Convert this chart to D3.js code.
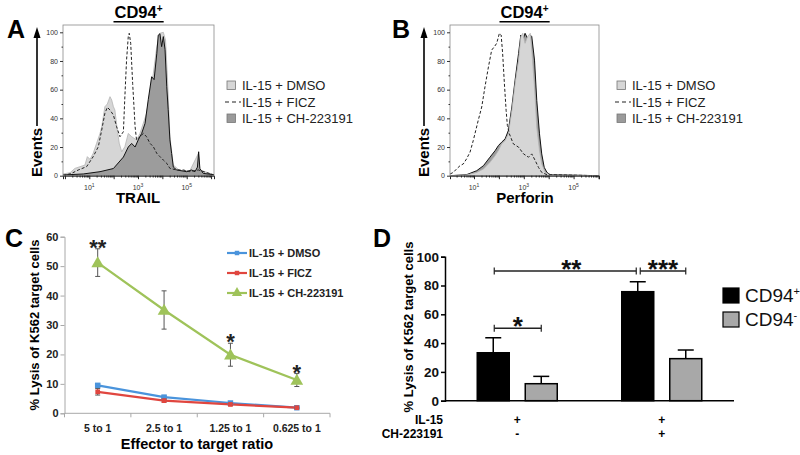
<!DOCTYPE html>
<html><head><meta charset="utf-8">
<script src="https://cdn.jsdelivr.net/npm/d3@7"></script>
<style>body{margin:0;background:#fff}svg{font-family:"Liberation Sans",Arial,Helvetica,sans-serif}</style>
</head><body><svg id="c" width="800" height="455"></svg>
<script>
// ================= DATA =================
// Panels A/B: flow histograms, [log10 intensity, % of max events]
const histYTicks = [0, 20, 40, 60, 80, 100];
const histXLabelExps = [1, 3, 5];
const histLegend = ["IL-15 + DMSO", "IL-15 + FICZ", "IL-15 + CH-223191"];

const trailDMSO = [[-0.08,1.2],[0.21,2.1],[0.41,5.1],[0.62,6.3],[0.82,7.4],[0.92,13.3],[1.03,11.4],[1.16,15.6],[1.30,22.6],[1.44,29.5],[1.51,34.2],[1.64,48.1],[1.74,50],[1.85,55.1],[1.92,52.8],[1.99,48.1],[2.05,45.8],[2.15,31.9],[2.23,22.6],[2.33,16.7],[2.46,20.2],[2.60,29.5],[2.74,27.2],[2.94,24.9],[3.08,29.5],[3.35,43.5],[3.63,71.4],[3.77,90],[3.90,99.3],[4.04,100],[4.13,94.6],[4.22,64.4],[4.31,27.2],[4.45,7.4],[4.72,3.5],[5.13,3.5],[5.48,15.6],[5.54,4],[6.12,0.7]];
const trailFICZ = [[-0.08,0],[0.27,1.6],[0.55,4],[0.89,6.3],[1.16,13.3],[1.37,20.2],[1.51,31.9],[1.64,43.5],[1.74,47.7],[1.85,45.8],[1.99,42.3],[2.12,34.2],[2.26,27.2],[2.40,30.7],[2.46,55],[2.53,80.7],[2.60,97],[2.64,99.3],[2.70,92.3],[2.78,64.4],[2.88,34.2],[2.94,24.9],[3.08,27.2],[3.22,29.5],[3.35,27.2],[3.49,22.6],[3.63,20.2],[3.77,15.6],[3.90,13.3],[4.04,10.9],[4.18,8.6],[4.31,5.1],[4.59,4],[4.86,4],[5.13,2.8],[5.48,4],[6.12,0.5]];
const trailCH = [[-0.08,0.5],[0.75,1.2],[1.44,2.8],[1.99,5],[2.40,13],[2.60,20],[2.74,22.5],[2.88,20],[3.01,25],[3.15,29.5],[3.29,36.5],[3.42,53],[3.56,69],[3.66,67],[3.77,85],[3.83,98],[3.90,99],[3.97,90],[4.04,97],[4.11,88],[4.18,62],[4.24,46],[4.31,25],[4.38,15.5],[4.45,6],[4.59,4],[5.0,2.8],[5.2,4],[5.34,2.8],[5.44,6],[5.49,16.7],[5.54,5],[5.68,1.6],[6.12,0.7]];

const perfDMSO = [[0.04,0],[0.70,0.5],[1.11,2.3],[1.38,4.7],[1.64,9.3],[1.85,14],[1.98,17.5],[2.11,22.2],[2.25,24.5],[2.38,29.2],[2.52,45.6],[2.65,64.3],[2.79,80.6],[2.88,96.9],[2.96,99.3],[3.05,92.3],[3.15,96.9],[3.26,99.3],[3.32,87.6],[3.43,61.9],[3.52,33.9],[3.63,17.5],[3.72,8.2],[3.86,2.3],[4.06,0.5],[6.02,0]];
const perfFICZ = [[0.04,1.2],[0.17,2.3],[0.30,4.7],[0.44,7],[0.57,8.2],[0.70,11.7],[0.84,16.4],[0.97,24.5],[1.17,38.6],[1.31,47.9],[1.44,61.9],[1.58,75.9],[1.71,87.6],[1.82,90],[1.91,92.3],[2.02,99.3],[2.09,98.1],[2.15,85.3],[2.22,64.3],[2.29,45.6],[2.34,35],[2.42,29.2],[2.58,22.2],[2.79,19.9],[2.99,15.2],[3.19,12.9],[3.32,15.2],[3.46,10.5],[3.59,5.8],[3.72,2.3],[3.93,0.7],[6.02,0]];
const perfCH = [[0.04,0],[0.70,0.7],[1.11,3.5],[1.38,7],[1.64,12.9],[1.85,17.5],[1.98,21],[2.11,23.4],[2.25,25.7],[2.38,31.5],[2.52,47.9],[2.65,66.6],[2.79,85.3],[2.88,98.1],[2.96,94.6],[3.05,99.3],[3.15,95.8],[3.26,98.1],[3.32,97],[3.43,80.6],[3.52,52.6],[3.63,29.2],[3.72,15.2],[3.82,5.8],[3.93,2.3],[4.06,0.7],[6.02,0]];

// Panel C: lysis vs E:T ratio
const ratios = ["5 to 1", "2.5 to 1", "1.25 to 1", "0.625 to 1"];
const seriesNamesC = ["IL-15 + DMSO", "IL-15 + FICZ", "IL-15 + CH-223191"];
const lysisDMSO = [9.5, 5.5, 3.5, 1.9];
const lysisFICZ = [7.3, 4.3, 3.0, 1.9];
const lysisCH = [51.2, 35.1, 19.9, 11.3];
const errDMSO = [0.5, 0.4, 0.3, 0.2];
const errFICZ = [1.1, 0.5, 0.3, 0.2];
const errCH = [4.7, 6.5, 3.9, 2.2];
const starsC = ["**", "", "*", "*"];
const yTicksC = [0, 10, 20, 30, 40, 50, 60];

// Panel D: bar chart
const groupsD = ["g1", "g2"];
const seriesD = ["CD94+", "CD94-"];
const il15Row = ["+", "+"];
const chRow = ["-", "+"];
const cd94Pos = [33.3, 75.7];
const cd94PosErr = [10.4, 6.9];
const cd94Neg = [11.8, 29.2];
const cd94NegErr = [5.1, 6.0];
const yTicksD = [0, 20, 40, 60, 80, 100];
const sigD = [
  {a: ["g1", "CD94+"], b: ["g1", "CD94-"], y: 50.3, label: "*"},
  {a: ["g1", "CD94+"], b: ["g2", "CD94+"], y: 90, label: "**"},
  {a: ["g2", "CD94+"], b: ["g2", "CD94-"], y: 90, label: "***"}
];

// ================= DRAW =================
const svg = d3.select("#c");
svg.append("rect").attr("width", 800).attr("height", 455).attr("fill", "#fff");

function panelLetter(t, x, y) {
  svg.append("text").attr("x", x).attr("y", y).attr("font-size", 25).attr("font-weight", "bold").text(t);
}

// ---------- Histogram panels ----------
function hist(o) {
  const g = svg.append("g");
  const top = 25, bot = 175.7;
  const x = d3.scaleLog().domain([Math.pow(10, o.dom[0]), Math.pow(10, o.dom[1])]).range([o.x0, o.x1]);
  const y = d3.scaleLinear().domain([0, 100]).range([bot, 32.3]);
  const X = d => x(Math.pow(10, d[0])), Y = d => y(d[1]);
  const area = d3.area().x(X).y0(y(0)).y1(Y);
  const line = d3.line().x(X).y(Y);
  const cid = "clip" + o.id;
  g.append("clipPath").attr("id", cid).append("rect").attr("x", o.x0).attr("y", top).attr("width", o.x1 - o.x0).attr("height", bot - top);
  const pg = g.append("g").attr("clip-path", `url(#${cid})`);
  o.layers.forEach(L => {
    if (L.fill) pg.append("path").datum(L.data).attr("d", area).attr("fill", L.fill);
    pg.append("path").datum(L.data).attr("d", line).attr("fill", "none")
      .attr("stroke", L.stroke).attr("stroke-width", L.sw).attr("stroke-dasharray", L.dash || null);
  });
  g.append("rect").attr("x", o.x0).attr("y", top).attr("width", o.x1 - o.x0).attr("height", bot - top)
    .attr("fill", "none").attr("stroke", "#8a8a8a").attr("stroke-width", 0.8);
  // y axis
  const ya = g.append("g").attr("transform", `translate(${o.x0},0)`)
    .call(d3.axisLeft(y).tickValues(histYTicks).tickSize(3).tickPadding(2));
  ya.select(".domain").remove();
  ya.selectAll("text").attr("font-size", 7).attr("font-family", null).attr("fill", "#333");
  ya.selectAll("line").attr("stroke", "#333");
  g.append("g").attr("transform", `translate(${o.x0},0)`)
    .call(d3.axisLeft(y).tickValues([10, 30, 50, 70, 90]).tickSize(1.5).tickFormat(""))
    .call(s => { s.select(".domain").remove(); s.selectAll("line").attr("stroke", "#333"); });
  // x axis
  const majors = [], minors = [];
  for (let k = 0; k <= 6; k++) {
    const v = Math.pow(10, k);
    if (v >= x.domain()[0] && v <= x.domain()[1]) majors.push(v);
    for (let m = 2; m <= 9; m++) { const w = m * v; if (w >= x.domain()[0] && w <= x.domain()[1]) minors.push(w); }
  }
  g.append("g").attr("transform", `translate(0,${bot})`)
    .call(d3.axisBottom(x).tickValues(majors).tickSize(3.5).tickFormat(""))
    .call(s => { s.select(".domain").attr("stroke", "#222"); s.selectAll("line").attr("stroke", "#222"); });
  g.append("g").attr("transform", `translate(0,${bot})`)
    .call(d3.axisBottom(x).tickValues(minors).tickSize(1.8).tickFormat(""))
    .call(s => { s.select(".domain").remove(); s.selectAll("line").attr("stroke", "#222"); });
  histXLabelExps.forEach(k => {
    const t = g.append("text").attr("x", x(Math.pow(10, k))).attr("y", 189.5).attr("text-anchor", "middle")
      .attr("font-size", 7).attr("fill", "#333");
    t.append("tspan").text("10");
    t.append("tspan").attr("dy", -3).attr("font-size", 5).text(k);
  });
  // title
  const cx = (o.x0 + o.x1) / 2;
  const tt = g.append("text").attr("x", cx).attr("y", 18).attr("text-anchor", "middle")
    .attr("font-size", 16.5).attr("font-weight", "bold");
  tt.append("tspan").text("CD94");
  tt.append("tspan").attr("dy", -6).attr("font-size", 10).text("+");
  const bb = tt.node().getBBox();
  g.append("line").attr("x1", bb.x - 1).attr("x2", bb.x + bb.width + 1).attr("y1", 21.7).attr("y2", 21.7)
    .attr("stroke", "#000").attr("stroke-width", 1.6);
  // Events arrow
  g.append("line").attr("x1", o.ex - 5).attr("x2", o.ex - 5).attr("y1", 126).attr("y2", 36).attr("stroke", "#000").attr("stroke-width", 1.6);
  g.append("path").attr("d", `M${o.ex - 5},27 L${o.ex - 8.5},38 L${o.ex - 1.5},38 Z`).attr("fill", "#000");
  g.append("text").attr("transform", `translate(${o.ex},177) rotate(-90)`).attr("font-size", 15)
    .attr("font-weight", "bold").text("Events");
  // x label
  g.append("text").attr("x", o.labx).attr("y", 203).attr("text-anchor", "middle").attr("font-size", 15)
    .attr("font-weight", "bold").text(o.xlabel);
  // legend
  const lg = g.append("g").attr("transform", `translate(${o.lx},0)`);
  const lys = [90, 106.5, 123];
  histLegend.forEach((name, i) => {
    if (i === 1) {
      lg.append("line").attr("x1", -2).attr("x2", 14).attr("y1", lys[i] - 4.5).attr("y2", lys[i] - 4.5)
        .attr("stroke", "#222").attr("stroke-width", 1.2).attr("stroke-dasharray", "4,3");
    } else {
      lg.append("rect").attr("x", 0).attr("y", lys[i] - 9).attr("width", 8.5).attr("height", 8.5)
        .attr("fill", i === 0 ? "#d6d6d6" : "#9a9a9a").attr("stroke", "#777").attr("stroke-width", 0.8);
    }
    lg.append("text").attr("x", 15).attr("y", lys[i]).attr("font-size", 13).attr("fill", "#222").text(name);
  });
}

const LIGHT = {fill: "#d6d6d6", stroke: "#b4b4b4", sw: 0.8};
const DARK = {fill: "#9c9c9c", stroke: "#111", sw: 1};
const DASH = {fill: null, stroke: "#222", sw: 1, dash: "3,2"};

hist({id: "A", x0: 63, x1: 214, dom: [-0.08, 6.12], ex: 42, labx: 138, xlabel: "TRAIL", lx: 227,
  layers: [Object.assign({data: trailDMSO}, LIGHT), Object.assign({data: trailCH}, DARK), Object.assign({data: trailFICZ}, DASH)]});
hist({id: "B", x0: 450, x1: 599, dom: [0.036, 6.02], ex: 429, labx: 525, xlabel: "Perforin", lx: 617,
  layers: [Object.assign({data: perfCH}, DARK), Object.assign({data: perfDMSO}, LIGHT), Object.assign({data: perfFICZ}, DASH)]});
panelLetter("A", 7, 38);
panelLetter("B", 392, 38);

// ---------- Panel C ----------
{
  const g = svg.append("g");
  const x = d3.scaleBand().domain(ratios).range([64.5, 330]);
  const y = d3.scaleLinear().domain([0, 60]).range([413.3, 236.7]);
  const xc = d => x(d) + x.bandwidth() / 2;
  const axisCol = "#a8a8a8";
  const ya = g.append("g").attr("transform", "translate(64.5,0)")
    .call(d3.axisLeft(y).tickValues(yTicksC).tickSize(4).tickPadding(2));
  ya.selectAll("line, .domain").attr("stroke", axisCol);
  ya.selectAll("text").attr("font-size", 11).attr("font-weight", "bold").attr("font-family", null).attr("fill", "#222");
  // x axis
  g.append("line").attr("x1", 64.5).attr("x2", 330).attr("y1", y(0)).attr("y2", y(0)).attr("stroke", axisCol);
  const bounds = ratios.map(r => x(r)).concat([x(ratios[ratios.length - 1]) + x.bandwidth()]);
  g.selectAll(".xt").data(bounds).join("line").attr("x1", d => d).attr("x2", d => d)
    .attr("y1", y(0)).attr("y2", y(0) + 4).attr("stroke", axisCol);
  g.selectAll(".xl").data(ratios).join("text").attr("x", xc).attr("y", 431.5).attr("text-anchor", "middle")
    .attr("font-size", 10.5).attr("font-weight", "bold").attr("fill", "#222").text(d => d);
  g.append("text").attr("x", 197).attr("y", 449).attr("text-anchor", "middle").attr("font-size", 14.5)
    .attr("font-weight", "bold").text("Effector to target ratio");
  g.append("text").attr("transform", "translate(39,325) rotate(-90)").attr("text-anchor", "middle")
    .attr("font-size", 13).attr("font-weight", "bold").text("% Lysis of K562 target cells");

  const series = [
    {vals: lysisDMSO, errs: errDMSO, color: "#4a94dc", shape: d3.symbolSquare, size: 30},
    {vals: lysisFICZ, errs: errFICZ, color: "#e0463f", shape: d3.symbolSquare, size: 22},
    {vals: lysisCH, errs: errCH, color: "#9fc35a", shape: d3.symbolTriangle, size: 70}
  ];
  const line = d3.line().x((d, i) => xc(ratios[i])).y(d => y(d));
  series.forEach(s => {
    g.append("path").datum(s.vals).attr("d", line).attr("fill", "none").attr("stroke", s.color).attr("stroke-width", 2.2);
  });
  series.forEach(s => {
    s.vals.forEach((v, i) => {
      const cx = xc(ratios[i]);
      g.append("line").attr("x1", cx).attr("x2", cx).attr("y1", y(v - s.errs[i])).attr("y2", y(v + s.errs[i])).attr("stroke", "#555").attr("stroke-width", 1);
      [v - s.errs[i], v + s.errs[i]].forEach(e => g.append("line").attr("x1", cx - 2.5).attr("x2", cx + 2.5)
        .attr("y1", y(e)).attr("y2", y(e)).attr("stroke", "#555").attr("stroke-width", 1));
      g.append("path").attr("d", d3.symbol().type(s.shape).size(s.size)()).attr("transform", `translate(${cx},${y(v) + (s.shape === d3.symbolTriangle ? 1 : 0)})`)
        .attr("fill", s.color);
    });
  });
  // stars
  starsC.forEach((st, i) => {
    if (!st) return;
    const top = y(lysisCH[i] + errCH[i]);
    g.append("text").attr("x", xc(ratios[i])).attr("y", top + 6).attr("text-anchor", "middle")
      .attr("font-size", 22).attr("font-weight", "bold").attr("fill", "#222").text(st);
  });
  // legend
  const ly = [253, 273, 293];
  seriesNamesC.forEach((n, i) => {
    const s = series[i];
    g.append("line").attr("x1", 227).attr("x2", 247).attr("y1", ly[i]).attr("y2", ly[i]).attr("stroke", s.color).attr("stroke-width", 2.2);
    g.append("path").attr("d", d3.symbol().type(s.shape).size(s.shape === d3.symbolTriangle ? 45 : 20)()).attr("transform", `translate(237,${ly[i]})`).attr("fill", s.color);
    g.append("text").attr("x", 249).attr("y", ly[i] + 4).attr("font-size", 11).attr("font-weight", "bold").attr("fill", "#222").text(n);
  });
}
panelLetter("C", 5, 247);

// ---------- Panel D ----------
{
  const g = svg.append("g");
  const x0 = d3.scaleBand().domain(groupsD).range([445, 734]);
  const x1 = d3.scaleBand().domain(seriesD).range([32.25, 112.25]).paddingInner(1 / 3);
  const y = d3.scaleLinear().domain([0, 100]).range([400.7, 256.7]);
  const bx = (gk, sk) => x0(gk) + x1(sk);
  const bc = (gk, sk) => bx(gk, sk) + x1.bandwidth() / 2;
  const ya = g.append("g").attr("transform", "translate(445,0)")
    .call(d3.axisLeft(y).tickValues(yTicksD).tickSize(4).tickPadding(2));
  ya.selectAll("line, .domain").attr("stroke", "#000").attr("stroke-width", 1.5);
  ya.selectAll("text").attr("font-size", 13.5).attr("font-weight", "bold").attr("font-family", null).attr("fill", "#111");
  g.append("line").attr("x1", 445).attr("x2", 734).attr("y1", y(0)).attr("y2", y(0)).attr("stroke", "#000").attr("stroke-width", 1.5);
  g.append("text").attr("transform", "translate(413,327) rotate(-90)").attr("text-anchor", "middle")
    .attr("font-size", 13).attr("font-weight", "bold").text("% Lysis of K562 target cells");

  const bars = [
    {key: "CD94+", vals: cd94Pos, errs: cd94PosErr, fill: "#000"},
    {key: "CD94-", vals: cd94Neg, errs: cd94NegErr, fill: "#a8a8a8"}
  ];
  bars.forEach(b => {
    groupsD.forEach((gk, i) => {
      const cx = bc(gk, b.key);
      g.append("line").attr("x1", cx).attr("x2", cx).attr("y1", y(b.vals[i])).attr("y2", y(b.vals[i] + b.errs[i])).attr("stroke", "#000").attr("stroke-width", 1.5);
      g.append("line").attr("x1", cx - 8).attr("x2", cx + 8).attr("y1", y(b.vals[i] + b.errs[i])).attr("y2", y(b.vals[i] + b.errs[i])).attr("stroke", "#000").attr("stroke-width", 1.5);
      g.append("rect").attr("x", bx(gk, b.key)).attr("y", y(b.vals[i])).attr("width", x1.bandwidth())
        .attr("height", y(0) - y(b.vals[i])).attr("fill", b.fill).attr("stroke", "#000").attr("stroke-width", 1.5);
    });
  });
  // significance brackets
  sigD.forEach((s, i) => {
    let xa = bc(s.a[0], s.a[1]) + 1, xb = bc(s.b[0], s.b[1]);
    if (i === 1) xb -= 1.5;
    if (i === 2) xa += 1.5;
    const yy = y(s.y);
    g.append("line").attr("x1", xa).attr("x2", xb).attr("y1", yy).attr("y2", yy).attr("stroke", "#222").attr("stroke-width", 1.5);
    [xa, xb].forEach(xx => g.append("line").attr("x1", xx).attr("x2", xx).attr("y1", yy - 3.5).attr("y2", yy + 3.5).attr("stroke", "#222").attr("stroke-width", 1.2));
    g.append("text").attr("x", (xa + xb) / 2 + (i === 1 ? 6 : 0)).attr("y", yy + 7).attr("text-anchor", "middle")
      .attr("font-size", 26).attr("font-weight", "bold").attr("fill", "#111").text(s.label);
  });
  // row labels
  g.append("text").attr("x", 443).attr("y", 423.5).attr("text-anchor", "end").attr("font-size", 12).attr("font-weight", "bold").text("IL-15");
  g.append("text").attr("x", 443).attr("y", 437.5).attr("text-anchor", "end").attr("font-size", 12).attr("font-weight", "bold").text("CH-223191");
  groupsD.forEach((gk, i) => {
    const cx = x0(gk) + x0.bandwidth() / 2;
    g.append("text").attr("x", cx).attr("y", 423.5).attr("text-anchor", "middle").attr("font-size", 12).attr("font-weight", "bold").text(il15Row[i]);
    g.append("text").attr("x", cx).attr("y", 437.5).attr("text-anchor", "middle").attr("font-size", 12).attr("font-weight", "bold").text(chRow[i]);
  });
  // legend
  bars.forEach((b, i) => {
    const ly = 288 + i * 24;
    g.append("rect").attr("x", 723).attr("y", ly).attr("width", 16).attr("height", 15).attr("fill", b.fill).attr("stroke", "#000").attr("stroke-width", 1.2);
    const t = g.append("text").attr("x", 745).attr("y", ly + 14).attr("font-size", 19).attr("fill", "#111");
    t.append("tspan").text("CD94");
    t.append("tspan").attr("dy", -7).attr("font-size", 11).text(b.key.slice(4));
  });
}
panelLetter("D", 373, 247);
</script></body></html>
